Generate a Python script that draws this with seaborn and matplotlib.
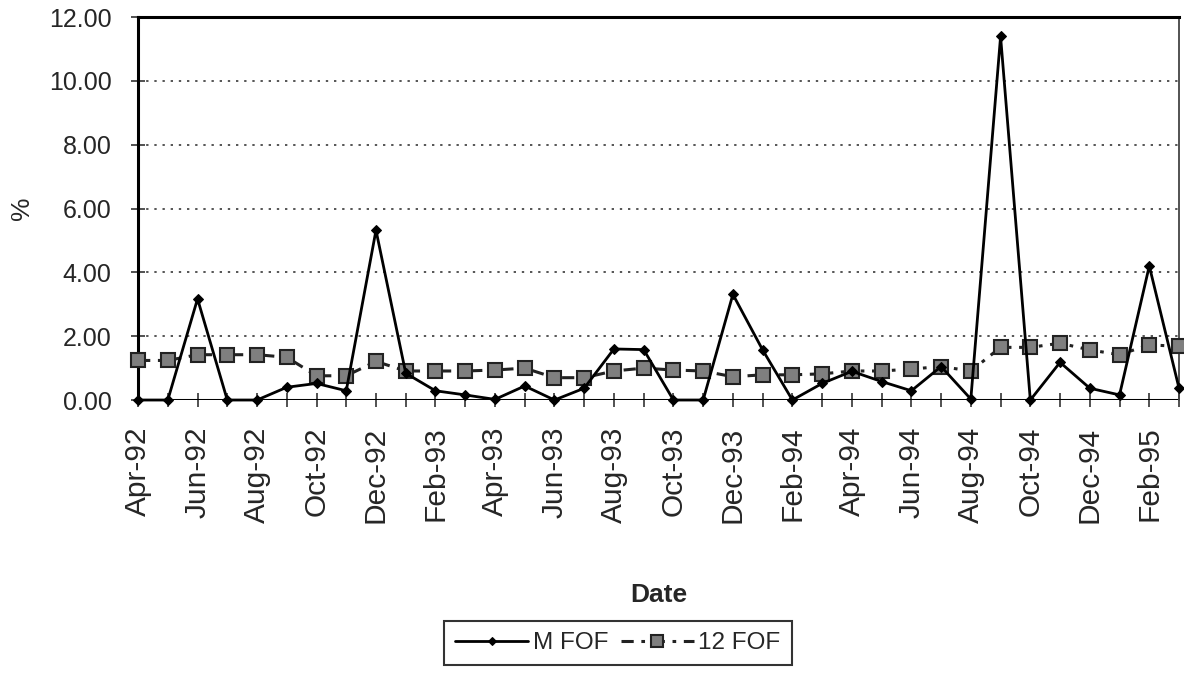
import matplotlib
matplotlib.use("Agg")
import matplotlib.pyplot as plt
import seaborn as sns
import pandas as pd
import numpy as np

months = ["Apr-92", "May-92", "Jun-92", "Jul-92", "Aug-92", "Sep-92", "Oct-92", "Nov-92", "Dec-92",
          "Jan-93", "Feb-93", "Mar-93", "Apr-93", "May-93", "Jun-93", "Jul-93", "Aug-93", "Sep-93",
          "Oct-93", "Nov-93", "Dec-93", "Jan-94", "Feb-94", "Mar-94", "Apr-94", "May-94", "Jun-94",
          "Jul-94", "Aug-94", "Sep-94", "Oct-94", "Nov-94", "Dec-94", "Jan-95", "Feb-95", "Mar-95"]

m_fof = [0.00, 0.00, 3.17, 0.00, 0.00, 0.40, 0.52, 0.29, 5.32, 0.84, 0.29, 0.16,
         0.02, 0.44, 0.00, 0.37, 1.60, 1.58, 0.00, 0.00, 3.31, 1.57, 0.00, 0.52,
         0.90, 0.58, 0.29, 1.05, 0.03, 11.39, 0.00, 1.18, 0.37, 0.16, 4.20, 0.37]

fof12 = [1.24, 1.24, 1.42, 1.42, 1.42, 1.34, 0.76, 0.76, 1.21, 0.91, 0.91, 0.91,
         0.94, 1.00, 0.70, 0.70, 0.91, 1.00, 0.94, 0.91, 0.73, 0.79, 0.79, 0.82,
         0.91, 0.91, 0.97, 1.05, 0.91, 1.65, 1.65, 1.78, 1.57, 1.42, 1.73, 1.68]

yticks = [0, 2, 4, 6, 8, 10, 12]

df = pd.DataFrame({"idx": np.arange(len(months)), "month": months,
                   "M FOF": m_fof, "12 FOF": fof12})

sns.set_theme(style="white")
plt.rcParams["font.family"] = ["Liberation Sans", "DejaVu Sans"]

fig = plt.figure(figsize=(11.84, 6.73), dpi=100)
ax = fig.add_axes([0.1166, 0.4056, 0.8792, 0.5691])

sns.lineplot(data=df, x="idx", y="12 FOF", ax=ax, color="#222222", linewidth=2.2,
             linestyle=(0, (4, 2.5, 1.2, 2.5)), marker="s", markersize=10.5,
             markerfacecolor="#7f7f7f", markeredgecolor="#222222", markeredgewidth=1.5,
             label="12 FOF", clip_on=False, zorder=3)
sns.lineplot(data=df, x="idx", y="M FOF", ax=ax, color="black", linewidth=2.0,
             marker="D", markersize=5, markerfacecolor="black", markeredgecolor="black",
             label="M FOF", clip_on=False, zorder=4)

ax.set_xlim(0, len(months) - 1)
ax.set_ylim(0, 12)
ax.set_yticks(yticks)
ax.set_yticklabels([f"{v:.2f}" for v in yticks], fontsize=18)
ax.set_xticks(np.arange(len(months)))
ax.set_xticklabels([m if i % 2 == 0 else "" for i, m in enumerate(months)],
                   rotation=90, fontsize=21.5)
ax.tick_params(axis="both", which="both", direction="inout", length=10, width=1.2,
               color="#333333", bottom=True, left=True)
ax.tick_params(axis="y", pad=14)
ax.tick_params(axis="x", pad=14)

for y in yticks[1:-1]:
    ax.axhline(y, color="#555555", linestyle=(0, (1.2, 3)), linewidth=1.4, zorder=1)
ax.axhline(0, color="black", linewidth=2.2, zorder=2)

for side in ["left", "top"]:
    ax.spines[side].set_color("black")
    ax.spines[side].set_linewidth(2.2)
ax.spines["right"].set_color("#444444")
ax.spines["right"].set_linewidth(1.3)
ax.spines["bottom"].set_visible(False)

ax.set_xlabel("Date", fontsize=19, fontweight="bold", labelpad=43)
ax.set_ylabel("%", fontsize=19)
ax.yaxis.set_label_coords(-0.100, 0.50)

handles, labels = ax.get_legend_handles_labels()
order = [labels.index("M FOF"), labels.index("12 FOF")]
leg = ax.legend([handles[i] for i in order], [labels[i] for i in order],
                loc="upper center", bbox_to_anchor=(0.461, -0.546), ncol=2,
                fontsize=17.5, frameon=True, fancybox=False, edgecolor="black",
                handlelength=3.0, handletextpad=0.2, columnspacing=0.5,
                borderpad=0.45, markerscale=0.8)
leg.get_frame().set_linewidth(1.5)

fig.savefig("out.png", dpi=100, facecolor="white")
